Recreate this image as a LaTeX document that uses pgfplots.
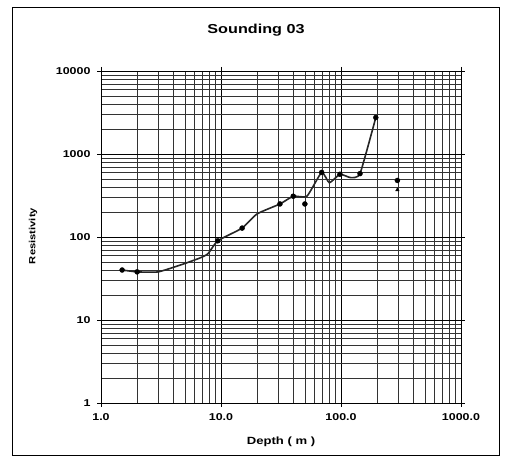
\documentclass[border=0pt]{standalone}
\usepackage{pgfplots}
\pgfplotsset{compat=1.18}
\usepackage{fontspec}
\setmainfont{Liberation Sans}
\newfontfamily\widesans[FakeStretch=1.25]{Liberation Sans}
\begin{document}
\begin{tikzpicture}[x=1bp,y=1bp]
% page = 505 x 460 px, axis origin at pixel (101,403)
\path[use as bounding box] (-101,-57) rectangle (404,403);
\draw[line width=0.9bp] (-89,-52) rectangle (398,396);
\node[font=\widesans\bfseries\fontsize{13}{15}\selectfont] at (155,373) {Sounding 03};
\begin{loglogaxis}[
    scale only axis,
    width=360bp, height=332bp,
    xmin=1, xmax=1000, ymin=1, ymax=10000,
    xtick={1,10,100,1000},
    xticklabels={1.0,10.0,100.0,1000.0},
    ytick={1,10,100,1000,10000},
    yticklabels={1,10,100,1000,10000},
    tick align=outside,
    major tick length=4bp,
    minor tick length=0pt,
    tick style={black, line width=0.6bp},
    tick label style={font=\widesans\bfseries\fontsize{10}{11}\selectfont},
    xticklabel style={yshift=-3bp},
    yticklabel style={xshift=-3bp},
    grid=both,
    major grid style={black, line width=0.9bp},
    minor grid style={black!80, line width=0.5bp},
    axis line style={black, line width=0.9bp},
    xlabel={Depth ( m )},
    ylabel={Resistivity},
    xlabel style={font=\widesans\bfseries\fontsize{10.5}{12}\selectfont, at={(axis description cs:0.5,-0.117)}, anchor=center},
    ylabel style={font=\widesans\bfseries\fontsize{9}{10}\selectfont, at={(axis description cs:-0.189,0.503)}, anchor=center, rotate=0},
]
% sounding curve
\addplot[black!85, line width=1.6bp, smooth, tension=0.3] coordinates {
    (1.5, 40) (2.0, 38) (3.0, 38) (4.8, 47) (6.7, 56) (7.8, 63)
    (9.4, 90) (15, 128) (20, 190) (31, 250) (40, 310) (52, 310)
    (69, 600) (80, 450) (98, 570) (120, 520) (144, 580) (195, 2750)
};
% visible markers
\addplot[only marks, mark=*, mark size=2.5bp, black] coordinates {
    (1.5, 40) (2.0, 38) (9.4, 90) (15, 128) (31, 250) (40, 310)
    (50, 250) (69, 600) (98, 570) (144, 580) (195, 2750) (295, 480)
};
\addplot[only marks, mark=triangle*, mark size=2bp, black] coordinates {
    (295, 370)
};
\end{loglogaxis}
\end{tikzpicture}
\end{document}
